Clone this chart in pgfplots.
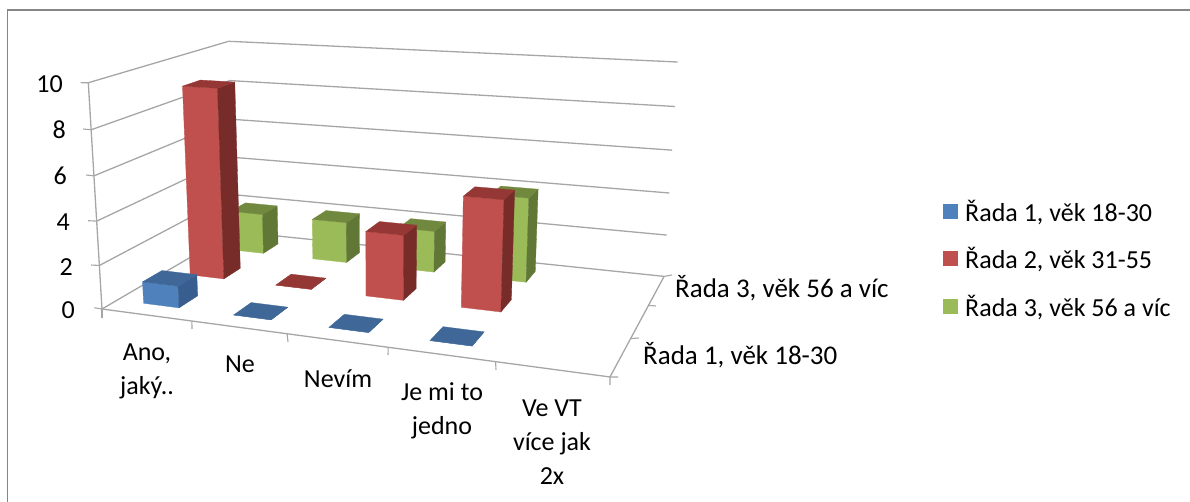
\documentclass[border=0pt]{standalone}
\usepackage{pgfplots}
\pgfplotsset{compat=1.18}
\usepackage{fontspec}
\setmainfont{Carlito}
\definecolor{gridc}{HTML}{A6A6A6}
\definecolor{frm}{HTML}{868686}
\definecolor{bF}{HTML}{4F81BD}\definecolor{bR}{HTML}{375E8E}\definecolor{bT}{HTML}{3F6797}
\definecolor{rF}{HTML}{C0504D}\definecolor{rR}{HTML}{772C2A}\definecolor{rT}{HTML}{953735}
\definecolor{gF}{HTML}{9BBB59}\definecolor{gR}{HTML}{617735}\definecolor{gT}{HTML}{71893F}
\tikzset{lab/.style={font=\fontsize{26}{34}\selectfont,text=black,inner sep=0pt},
  labd/.style={font=\fontsize{27}{34}\selectfont,text=black,inner sep=0pt}}
% perspective of the 3D chart: u = category 0..5, v = series depth 0..3, w = value 0..10
\newcommand\Pj[4]{%
  \pgfmathsetmacro\tH{1-.028*(#1)+.0667*(#2)-.00476*(#3)}%
  \pgfmathsetmacro\tX{(102+84.52*(#1)+59.8*(#2)-1.79*(#3))/\tH}%
  \pgfmathsetmacro\tY{(309+3.04*(#1)-10.4*(#2)-23.02*(#3))/\tH}%
  \expandafter\xdef\csname #4\endcsname{(\tX,\tY) }}
\newcommand\Poly[2]{\edef\tmpa{\noexpand\addplot[fill=#1,draw=#1,line width=.3pt,forget plot] coordinates {#2} --cycle;}\tmpa}
\newcommand\Ln[3]{\Pj#1{pa}\Pj#2{pb}\edef\tmpa{\noexpand\addplot[#3,forget plot] coordinates {\pa\pb};}\tmpa}
% \Cuboid{category}{series index}{value}{colour prefix}
\newcommand\Cuboid[4]{%
  \pgfmathsetmacro\ua{#1+.3}\pgfmathsetmacro\ub{#1+.7}%
  \pgfmathsetmacro\va{#2+.3}\pgfmathsetmacro\vb{#2+.7}%
  \Pj{\ua}{\va}{0}{pa}\Pj{\ub}{\va}{0}{pb}\Pj{\ub}{\vb}{0}{pc}%
  \Pj{\ua}{\va}{#3}{qa}\Pj{\ub}{\va}{#3}{qb}\Pj{\ub}{\vb}{#3}{qc}\Pj{\ua}{\vb}{#3}{qd}%
  \Poly{#4F}{\pa\pb\qb\qa}%
  \Poly{#4R}{\pb\pc\qc\qb}%
  \Poly{#4T}{\qa\qb\qc\qd}}
\begin{document}
\begin{tikzpicture}[x=1pt,y=1pt]
\useasboundingbox (0pt,0pt) rectangle (1190pt,502pt);
\begin{axis}[at={(0pt,0pt)},anchor=south west,width=1190pt,height=502pt,scale only axis,
  xmin=0,xmax=1190,ymin=0,ymax=502,y dir=reverse,hide axis,clip=false,
  legend style={draw=none,fill=none,at={(axis cs:943,198)},anchor=north west,
    font=\fontsize{26}{30}\selectfont,row sep=20.5pt,inner sep=0pt},
  legend cell align=left,
  legend image code/.code={\fill[#1] (0pt,-7.5pt) rectangle (15pt,7.5pt);}]
% chart frame
\addplot[frm,line width=1.3pt,forget plot] coordinates {(7.5,502) (7.5,10) (1190,10)};
% walls and gridlines
\foreach \w in {2,4,...,10}{%
  \Ln{{0}{0}{\w}}{{0}{3}{\w}}{gridc,line width=1.3pt}%
  \Ln{{0}{3}{\w}}{{5}{3}{\w}}{gridc,line width=1.3pt}%
}
\Ln{{0}{0}{0}}{{0}{3}{0}}{gridc,line width=1.3pt}
\Ln{{0}{3}{0}}{{5}{3}{0}}{gridc,line width=1.3pt}
\Ln{{0}{0}{0}}{{0}{0}{10}}{gridc,line width=1.3pt}
\Ln{{0}{0}{0}}{{5}{0}{0}}{gridc,line width=1.3pt}
\Ln{{5}{0}{0}}{{5}{3}{0}}{gridc,line width=1.3pt}
% Rada 3, vek 56 a vic
\Cuboid{0}{2}{2}{g}
\Cuboid{1}{2}{2}{g}
\Cuboid{2}{2}{2}{g}
\Cuboid{3}{2}{4}{g}
% Rada 2, vek 31-55
\Cuboid{0}{1}{9}{r}
\Cuboid{1}{1}{0}{r}
\Cuboid{2}{1}{3}{r}
\Cuboid{3}{1}{5}{r}
% Rada 1, vek 18-30
\Cuboid{0}{0}{1}{b}
\Cuboid{1}{0}{0}{b}
\Cuboid{2}{0}{0}{b}
\Cuboid{3}{0}{0}{b}
% tick stubs
\foreach \w/\xa/\ya in {0/94.3/307.7,2/91/265,4/88/220.7,6/86/175,8/83/129,10/80.7/82.7}{%
  \Pj{0}{0}{\w}{pa}\edef\tmpa{\noexpand\addplot[gridc,line width=1.1pt,forget plot] coordinates {\pa(\xa,\ya)};}\tmpa}
\foreach \u/\xa/\ya in {0/102/318,1/192/329,2/288/342,3/388/355,4/496/370,5/610/385}{%
  \Pj{\u}{0}{0}{pa}\edef\tmpa{\noexpand\addplot[gridc,line width=1.1pt,forget plot] coordinates {\pa(\xa,\ya)};}\tmpa}
\foreach \v/\xa/\ya in {0/618/377,1/639/338,2/656/306,3/672/275}{%
  \Pj{5}{\v}{0}{pa}\edef\tmpa{\noexpand\addplot[gridc,line width=1.1pt,forget plot] coordinates {\pa(\xa,\ya)};}\tmpa}
% value labels
\node[lab,anchor=east] at (axis cs:63,84) {10};
\node[lab,anchor=east] at (axis cs:66,130) {8};
\node[lab,anchor=east] at (axis cs:67,176) {6};
\node[lab,anchor=east] at (axis cs:70,222) {4};
\node[lab,anchor=east] at (axis cs:73,267) {2};
\node[lab,anchor=east] at (axis cs:75,310) {0};
% category labels
\node[lab,align=center] at (axis cs:147,371) {Ano,\\jaký..};
\node[lab,align=center] at (axis cs:240,364) {Ne};
\node[lab,align=center] at (axis cs:338,379) {Nevím};
\node[lab,align=center] at (axis cs:442,411) {Je mi to\\jedno};
\node[lab,align=center] at (axis cs:552,442) {Ve VT\\více jak\\2x};
% depth labels
\node[labd,anchor=west] at (axis cs:675,288) {Řada 3, věk 56 a víc};
\node[labd,anchor=west] at (axis cs:643,355) {Řada 1, věk 18-30};
% legend
\addlegendimage{fill=bF,draw=none}\addlegendentry{\hspace{5pt}Řada 1, věk 18-30}
\addlegendimage{fill=rF,draw=none}\addlegendentry{\hspace{5pt}Řada 2, věk 31-55}
\addlegendimage{fill=gF,draw=none}\addlegendentry{\hspace{5pt}Řada 3, věk 56 a víc}
\end{axis}
\end{tikzpicture}
\end{document}
